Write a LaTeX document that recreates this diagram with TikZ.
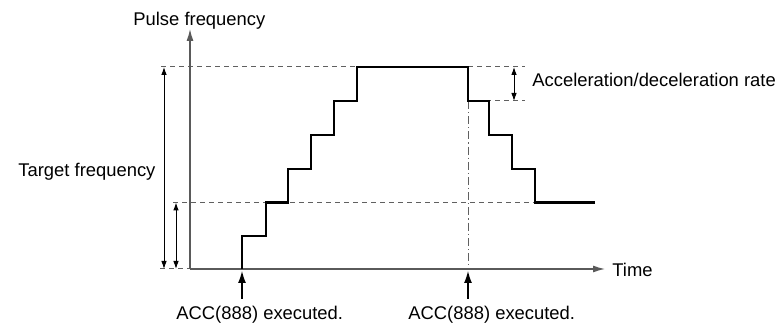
\documentclass[tikz,border=0pt]{standalone}
\usepackage{fontspec}
\setmainfont{Liberation Sans}
\usetikzlibrary{arrows.meta}
\definecolor{axisgray}{HTML}{5A5A5A}
\definecolor{guidegray}{HTML}{606060}

\begin{document}
\begin{tikzpicture}[x=0.5pt, y=-0.5pt, font=\fontsize{9.2}{11}\selectfont,
  axis/.style={axisgray, line width=0.65pt, -{Latex[length=6pt, width=3.5pt]}},
  guide/.style={guidegray, line width=0.5pt, dash pattern=on 2.5pt off 2pt},
  chain/.style={guidegray, line width=0.5pt, dash pattern=on 4pt off 1.5pt on 0.6pt off 1.5pt},
  profile/.style={black, line width=1.1pt},
  dimarrow/.style={black, line width=0.5pt, {Latex[length=4pt, width=2.8pt]}-{Latex[length=4pt, width=2.8pt]}},
  trigger/.style={black, line width=0.6pt, -{Latex[length=6pt, width=4pt]}},
  label/.style={anchor=base west, inner sep=0pt}]
  \useasboundingbox (0,0) rectangle (778,325);

  % --- key points ---
  \coordinate (origin)  at (190,269);
  \coordinate (ytop)    at (190,29);
  \coordinate (xend)    at (605,269);
  \coordinate (start)   at (242,269);
  \coordinate (decel)   at (468,67);
  \coordinate (decelLo) at (468,101);
  \coordinate (decelBot) at (468,269);

  % --- guide lines ---
  \draw[guide] (161,67) -- (357,67);
  \draw[guide] (decel) -- (525,67);
  \draw[guide] (decelLo) -- (525,101);
  \draw[guide] (173,202.5) -- (535,202.5);
  \draw[guide] (160,269) -- (origin);
  \draw[chain] (decelLo) -- (decelBot);

  % --- axes ---
  \draw[axis] (origin) -- (ytop);
  \draw[axis] (origin) -- (xend);
  \node[label] (pulse) at (133,26) {Pulse frequency};
  \node[label] (time) at (612,276.5) {Time};

  % --- pulse profile: accel, hold, decel ---
  \draw[profile] (start) |- (266,236) |- (288,202.5) |- (311,169) |- (334,135)
    |- (357,101) |- (decel) |- (489,101) |- (512,135) |- (535,169)
    |- (595,202.5);

  % --- dimension arrows ---
  \coordinate (tfTop) at (164,67);
  \coordinate (tfBot) at (164,269);
  \coordinate (s1Top) at (176,202.5);
  \coordinate (s1Bot) at (176,269);
  \coordinate (rTop)  at (514,67);
  \coordinate (rBot)  at (514,101);
  \draw[dimarrow] (tfTop) -- (tfBot);
  \draw[dimarrow] (s1Top) -- (s1Bot);
  \draw[dimarrow] (rTop) -- (rBot);
  \node[label] (target) at (18,177) {Target frequency};
  \node[label] (rate) at (532,87) {Acceleration/deceleration rate};

  % --- ACC(888) triggers ---
  \coordinate (trigA) at (242,299);
  \coordinate (trigB) at (468,299);
  \draw[trigger] (trigA) -- ([yshift=-1]start);
  \draw[trigger] (trigB) -- ([yshift=-1]decelBot);
  \node[label] (accA) at (176,319.5) {ACC(888) executed.};
  \node[label] (accB) at (408,319.5) {ACC(888) executed.};
\end{tikzpicture}
\end{document}
